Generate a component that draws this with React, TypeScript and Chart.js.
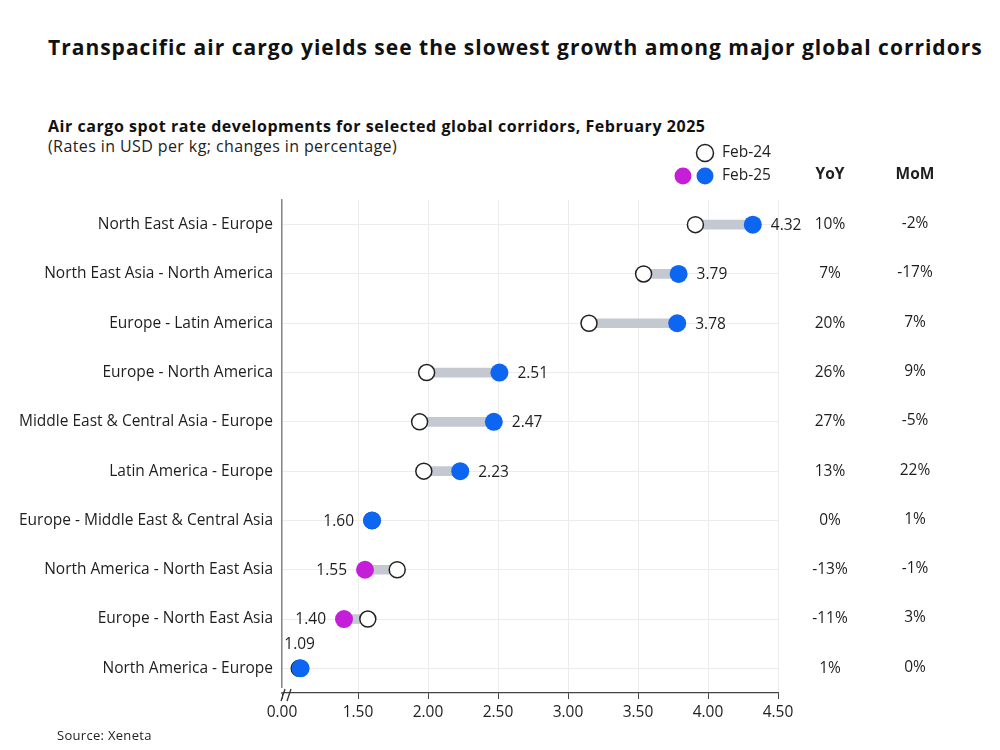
import React, { useEffect, useRef } from "react";
import { Chart, registerables } from "chart.js";

Chart.register(...registerables);

const CATEGORIES = [
  "North East Asia - Europe",
  "North East Asia - North America",
  "Europe - Latin America",
  "Europe - North America",
  "Middle East & Central Asia - Europe",
  "Latin America - Europe",
  "Europe - Middle East & Central Asia",
  "North America - North East Asia",
  "Europe - North East Asia",
  "North America - Europe",
];
const FEB24 = [3.91, 3.54, 3.15, 1.99, 1.94, 1.97, 1.6, 1.78, 1.57, 1.08];
const FEB25 = [4.32, 3.79, 3.78, 2.51, 2.47, 2.23, 1.6, 1.55, 1.4, 1.09];
const YOY = ["10%", "7%", "20%", "26%", "27%", "13%", "0%", "-13%", "-11%", "1%"];
const MOM = ["-2%", "-17%", "7%", "9%", "-5%", "22%", "1%", "-1%", "3%", "0%"];
const AXIS_MIN = 0.957;
const AXIS_MAX = 4.5;
const X_TICKS = [AXIS_MIN, 1.5, 2.0, 2.5, 3.0, 3.5, 4.0, 4.5];
const X_TICK_LABELS = ["0.00", "1.50", "2.00", "2.50", "3.00", "3.50", "4.00", "4.50"];

const FONT = "'Open Sans', 'Noto Sans', sans-serif";
const BLUE = "#0d66f2";
const MAGENTA = "#c41ed8";
const GRAY_BAR = "#c3c8d1";
const TEXT = "#1e1e1e";

const pointColors = FEB25.map((v, i) => (v < FEB24[i] ? MAGENTA : BLUE));

const overlayPlugin = {
  id: "overlay",
  afterDatasetsDraw(chart: any) {
    const ctx = chart.ctx;
    const xs = chart.scales.x;
    const ys = chart.scales.y;
    ctx.save();
    ctx.font = `15.5px ${FONT}`;
    ctx.fillStyle = TEXT;
    ctx.textBaseline = "middle";
    // value labels
    FEB25.forEach((v, i) => {
      const px = xs.getPixelForValue(v);
      const py = ys.getPixelForValue(i);
      const label = v.toFixed(2);
      if (px - xs.left < 40) {
        ctx.textAlign = "center";
        ctx.fillText(label, px - 1, py - 24);
      } else if (v > FEB24[i]) {
        ctx.textAlign = "left";
        ctx.fillText(label, px + 18, py + 1);
      } else {
        ctx.textAlign = "right";
        ctx.fillText(label, px - 18, py + 1);
      }
    });
    // YoY / MoM columns
    ctx.textAlign = "center";
    CATEGORIES.forEach((_, i) => {
      const py = ys.getPixelForValue(i);
      ctx.fillText(YOY[i], 830, py);
      ctx.fillText(MOM[i], 915, py - 1);
    });
    ctx.font = `bold 15.5px ${FONT}`;
    ctx.fillText("YoY", 830, 175);
    ctx.fillText("MoM", 915, 175);
    // legend
    ctx.font = `15.5px ${FONT}`;
    ctx.textAlign = "left";
    ctx.fillText("Feb-24", 722, 153);
    ctx.fillText("Feb-25", 722, 176);
    ctx.beginPath();
    ctx.arc(705, 153, 8.5, 0, Math.PI * 2);
    ctx.fillStyle = "#fff";
    ctx.fill();
    ctx.lineWidth = 1.5;
    ctx.strokeStyle = "#222";
    ctx.stroke();
    ctx.beginPath();
    ctx.arc(683, 176, 8.5, 0, Math.PI * 2);
    ctx.fillStyle = MAGENTA;
    ctx.fill();
    ctx.beginPath();
    ctx.arc(705, 176, 8.5, 0, Math.PI * 2);
    ctx.fillStyle = BLUE;
    ctx.fill();
    // axis break
    const bx = xs.left;
    const by = xs.top;
    ctx.fillStyle = "#fff";
    ctx.fillRect(bx - 2, by - 5, 4, 4);
    ctx.strokeStyle = "#333";
    ctx.lineWidth = 1.3;
    ctx.beginPath();
    ctx.moveTo(bx + 3, by - 4);
    ctx.lineTo(bx - 1, by + 8);
    ctx.moveTo(bx + 9, by - 4);
    ctx.lineTo(bx + 5, by + 8);
    ctx.stroke();
    ctx.restore();
  },
};

export default function App() {
  const ref = useRef<HTMLCanvasElement>(null);
  useEffect(() => {
    if (!ref.current) return;
    const chart = new Chart(ref.current, {
      type: "bar",
      data: {
        labels: CATEGORIES,
        datasets: [
          {
            type: "line",
            label: "Feb-25",
            data: FEB25,
            showLine: false,
            pointRadius: 9,
            pointBackgroundColor: pointColors,
            pointBorderColor: pointColors,
            pointBorderWidth: 0,
            order: 1,
          } as any,
          {
            type: "line",
            label: "Feb-24",
            data: FEB24,
            showLine: false,
            pointRadius: 8,
            pointBackgroundColor: "#ffffff",
            pointBorderColor: "#222222",
            pointBorderWidth: 1.5,
            order: 2,
          } as any,
          {
            type: "bar",
            label: "range",
            data: FEB24.map((v, i) => [v, FEB25[i]]),
            backgroundColor: GRAY_BAR,
            barThickness: 9,
            borderWidth: 0,
            order: 3,
          } as any,
        ],
      },
      options: {
        indexAxis: "y",
        animation: false,
        responsive: false,
        devicePixelRatio: 1,
        layout: { padding: { left: 0, right: 222, top: 200, bottom: 0 } },
        plugins: { legend: { display: false }, tooltip: { enabled: false }, title: { display: false } },
        scales: {
          x: {
            type: "linear",
            min: AXIS_MIN,
            max: AXIS_MAX,
            afterBuildTicks: (s: any) => {
              s.ticks = X_TICKS.map((v) => ({ value: v }));
            },
            afterFit: (s: any) => {
              s.height = 57;
            },
            ticks: {
              autoSkip: false,
              maxRotation: 0,
              padding: 4,
              color: TEXT,
              font: { family: FONT, size: 15.5 },
              callback: (v: any, i: number) => X_TICK_LABELS[i],
            },
            grid: { color: "#ececec", tickColor: "#444", tickLength: 6, lineWidth: 1 },
            border: { color: "#444", width: 1.2 },
          },
          y: {
            type: "category",
            offset: true,
            afterFit: (s: any) => {
              s.width = 282;
            },
            ticks: { color: TEXT, padding: 9, font: { family: FONT, size: 15.5 } },
            grid: { offset: false, color: "#ececec", drawTicks: false },
            border: { color: "#888", width: 1.5 },
          },
        },
      } as any,
      plugins: [overlayPlugin],
    });
    return () => chart.destroy();
  }, []);

  return (
    <div style={{ position: "absolute", left: 0, top: 0, width: 1000, height: 750, background: "#fff", fontFamily: FONT, color: "#111" }}>
      <div style={{ position: "absolute", left: 48, top: 33, fontSize: 21, lineHeight: "28px", fontWeight: 700, letterSpacing: "1px", whiteSpace: "nowrap" }}>
        Transpacific air cargo yields see the slowest growth among major global corridors
      </div>
      <div style={{ position: "absolute", left: 48, top: 116, fontSize: 16, lineHeight: "20px", fontWeight: 700, letterSpacing: "0.55px", whiteSpace: "nowrap" }}>
        Air cargo spot rate developments for selected global corridors, February 2025
      </div>
      <div style={{ position: "absolute", left: 48, top: 136, fontSize: 16, lineHeight: "20px", letterSpacing: "0.4px", whiteSpace: "nowrap", color: "#222" }}>
        (Rates in USD per kg; changes in percentage)
      </div>
      <canvas ref={ref} width={1000} height={750} style={{ position: "absolute", left: 0, top: 0, width: 1000, height: 750 }} />
      <div style={{ position: "absolute", left: 57, top: 726, fontSize: 13, lineHeight: "18px", letterSpacing: "0.3px", whiteSpace: "nowrap", color: "#222" }}>
        Source: Xeneta
      </div>
    </div>
  );
}
